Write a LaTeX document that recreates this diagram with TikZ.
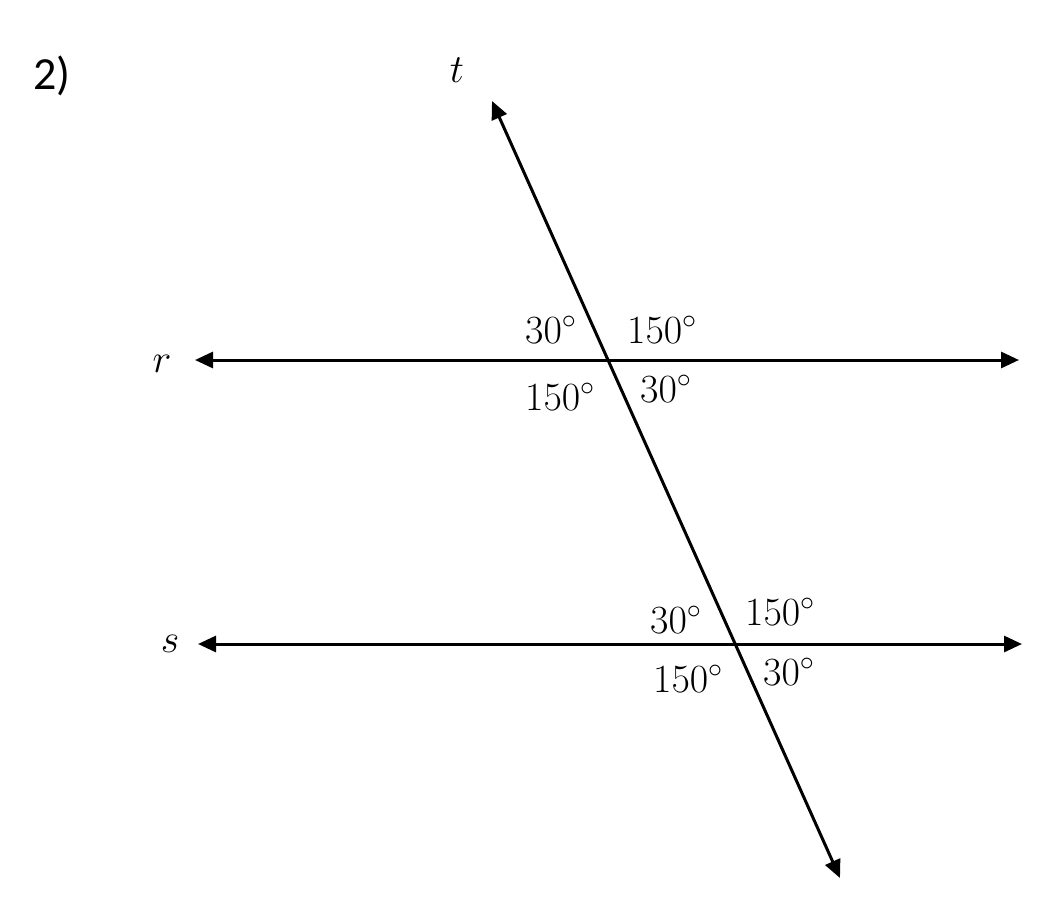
\RequirePackage{fix-cm}
\documentclass[tikz,border=0pt]{standalone}
\usepackage{amsmath}
\usepackage{fontspec}
\newfontfamily\numfont{Carlito}
\usetikzlibrary{arrows.meta,calc}

\begin{document}
\begin{tikzpicture}
[
	                    x = 1pt,
	                    y = -1pt,
	  >= {Triangle[length=18pt,width=16pt]},
	      line/.style = { <->, line width=3pt },
	anglelabel/.style = { anchor=base west, inner sep=0pt, font=\fontsize{40}{48}\selectfont },
	 linelabel/.style = { anchor=base, inner sep=0pt, font=\fontsize{40}{48}\selectfont }
]
	\useasboundingbox (0,0) rectangle (1058,908);

	% problem number
	\node (N) at (33,89) [anchor=base west, inner sep=0pt, font=\numfont\fontsize{46}{54}\selectfont] {2)};

	% line ends
	\coordinate (Rl) at (195,360);
	\coordinate (Rr) at (1019,360);
	\coordinate (Sl) at (198,644);
	\coordinate (Sr) at (1022,644);
	\coordinate (Tt) at (492,101);
	\coordinate (Tb) at (840,878);

	% edges
	\draw [line] (Rl) -- (Rr);
	\draw [line] (Sl) -- (Sr);
	\draw [line] (Tt) -- (Tb);

	% line names
	\node (t) at (457,82)  [linelabel] {$t$};
	\node (r) at (162,372) [linelabel] {$r$};
	\node (s) at (170,652) [linelabel] {$s$};

	% angles at r
	\node (R1) at (525,343) [anglelabel] {$30^{\circ}$};
	\node (R2) at (627,343) [anglelabel] {$150^{\circ}$};
	\node (R3) at (525,410) [anglelabel] {$150^{\circ}$};
	\node (R4) at (640,402) [anglelabel] {$30^{\circ}$};

	% angles at s
	\node (S1) at (650,633) [anglelabel] {$30^{\circ}$};
	\node (S2) at (745,625) [anglelabel] {$150^{\circ}$};
	\node (S3) at (653,692) [anglelabel] {$150^{\circ}$};
	\node (S4) at (763,685) [anglelabel] {$30^{\circ}$};
\end{tikzpicture}
\end{document}
